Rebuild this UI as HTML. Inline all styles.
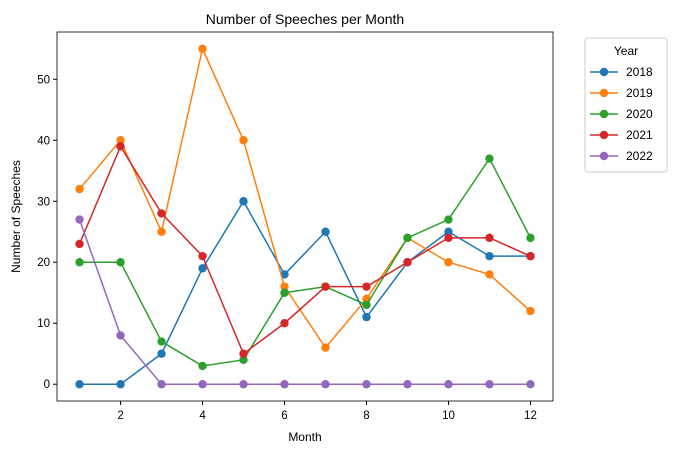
<!DOCTYPE html>
<html><head><meta charset="utf-8"><style>
body{margin:0;background:#fff;font-family:"Liberation Sans","DejaVu Sans",sans-serif;}
</style></head><body>
<svg id="c" width="679" height="455" xmlns="http://www.w3.org/2000/svg"></svg>
<script>
const months=[1,2,3,4,5,6,7,8,9,10,11,12];
const years=["2018","2019","2020","2021","2022"];
const s2018=[0,0,5,19,30,18,25,11,20,25,21,21];
const s2019=[32,40,25,55,40,16,6,14,24,20,18,12];
const s2020=[20,20,7,3,4,15,16,13,24,27,37,24];
const s2021=[23,39,28,21,5,10,16,16,20,24,24,21];
const s2022=[27,8,0,0,0,0,0,0,0,0,0,0];
const xTicks=[2,4,6,8,10,12];
const yTicks=[0,10,20,30,40,50];
const colors=["#1f77b4","#ff7f0e","#2ca02c","#d62728","#9467bd"];
const series=[s2018,s2019,s2020,s2021,s2022];
const L=57,R=553,T=32,B=401,xmin=0.45,xmax=12.55,ymin=-2.75,ymax=57.75;
const X=v=>L+(v-xmin)/(xmax-xmin)*(R-L);
const Y=v=>B-(v-ymin)/(ymax-ymin)*(B-T);
const svg=document.getElementById('c');
const NS="http://www.w3.org/2000/svg";
function mk(tag,attrs,parent){const e=document.createElementNS(NS,tag);for(const k in attrs)e.setAttribute(k,attrs[k]);(parent||svg).appendChild(e);return e;}
function txt(str,attrs){const e=mk('text',attrs);e.textContent=str;return e;}
let t=txt("Number of Speeches per Month",{x:(L+R)/2,y:24,'text-anchor':'middle','font-size':14});

xTicks.forEach(v=>{
 const g=mk('g',{});
 
 mk('line',{x1:X(v),x2:X(v),y1:B,y2:B+4,stroke:'#000'},g);
 const e=mk('text',{x:X(v),y:B+18,'text-anchor':'middle','font-size':11.5},g);e.textContent=v;
});
yTicks.forEach(v=>{
 const g=mk('g',{});
 
 mk('line',{x1:L-4,x2:L,y1:Y(v),y2:Y(v),stroke:'#000'},g);
 const e=mk('text',{x:L-7,y:Y(v)+4,'text-anchor':'end','font-size':11.5},g);e.textContent=v;
});
t=txt("Month",{x:(L+R)/2,y:441,'text-anchor':'middle','font-size':12});

t=txt("Number of Speeches",{x:0,y:0,'text-anchor':'middle','font-size':12,transform:`translate(20,${(T+B)/2}) rotate(-90)`});

series.forEach((s,i)=>{
 const g=mk('g',{});
 
 mk('polyline',{points:s.map((v,j)=>X(months[j])+','+Y(v)).join(' '),fill:'none',stroke:colors[i],'stroke-width':1.5},g);
 s.forEach((v,j)=>{const c=mk('circle',{cx:X(months[j]),cy:Y(v),r:4.2,fill:colors[i]},g);
  });
});
const fr=mk('rect',{x:L,y:T,width:R-L,height:B-T,fill:'none',stroke:'#000','stroke-width':0.8});

const lg=mk('g',{});

mk('rect',{x:585,y:38,width:82,height:134,rx:3,fill:'#fff',stroke:'#ccc'},lg);
const lt=mk('text',{x:626,y:55,'text-anchor':'middle','font-size':12},lg);lt.textContent="Year";
years.forEach((y,i)=>{
 const g=mk('g',{},lg);
 
 const yy=72+i*21;
 mk('line',{x1:590,x2:618,y1:yy,y2:yy,stroke:colors[i],'stroke-width':1.5},g);
 mk('circle',{cx:604,cy:yy,r:4.2,fill:colors[i]},g);
 const e=mk('text',{x:626,y:yy+4,'font-size':12},g);e.textContent=y;
});
</script>
</body></html>
